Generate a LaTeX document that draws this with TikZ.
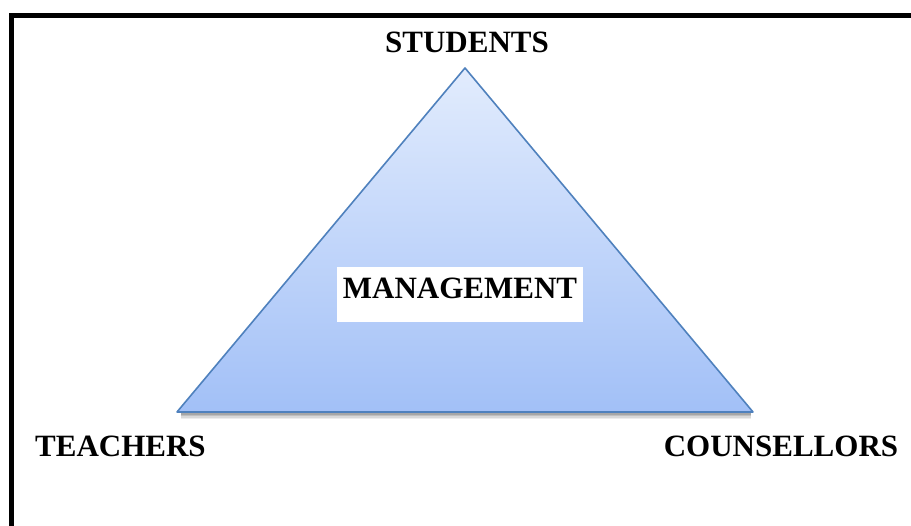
\documentclass[tikz,border=0pt]{standalone}
\usepackage{fontspec}
\setmainfont{Liberation Serif}
\definecolor{triline}{HTML}{4F81BD}
\definecolor{tritop}{HTML}{E2ECFD}
\definecolor{tribot}{HTML}{A2C0F7}
\tikzset{lbl/.style={font=\fontsize{31}{36}\bfseries\selectfont,inner sep=0pt,anchor=base}}
\begin{document}
\begin{tikzpicture}[x=1pt,y=-1pt]
			\useasboundingbox (0,0) rectangle (911,526);
			\clip (0,0) rectangle (911,526);
			\fill[white] (0,0) rectangle (911,526);
			\draw[line width=5pt] (11.5,15.5) rectangle (940,560);
			%
			\coordinate (top) at (465,68);
			\coordinate (lft) at (177,412);
			\coordinate (rgt) at (753,412);
			% soft shadow under the base
			\foreach \d/\o in {2/.35,3.5/.25,5/.15,6.5/.07}
				\draw[black,opacity=\o,line width=1.6pt] ([shift={(4,\d)}]lft) -- ([shift={(-2,\d)}]rgt);
			\path[top color=tritop, bottom color=tribot, draw=triline, line width=1.6pt,
				line join=round] (top) -- (rgt) -- (lft) -- cycle;
			%
			\node[lbl] at (467,53) (stud) {STUDENTS};
			\node[lbl,anchor=base west] at (35,457) (teach) {TEACHERS};
			\node[lbl] at (781,457) (couns) {COUNSELLORS};
			\node[lbl,anchor=center,fill=white,minimum width=246,minimum height=55,
				text depth=12pt] at (460,294.5) (mgmt) {MANAGEMENT};
		\end{tikzpicture}
\end{document}
